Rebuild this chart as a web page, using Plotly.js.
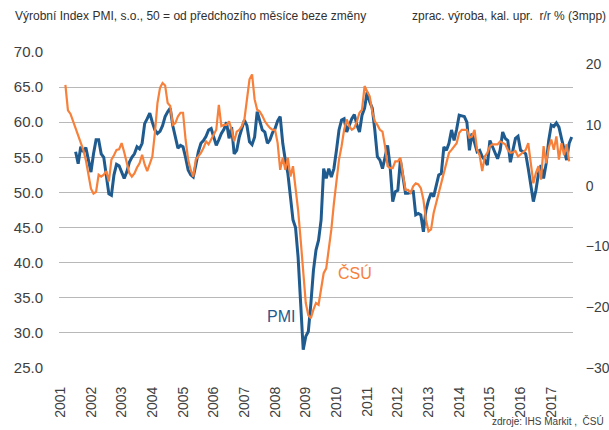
<!DOCTYPE html>
<html>
<head>
<meta charset="utf-8">
<script src="https://cdn.plot.ly/plotly-3.0.1.min.js"></script>
<style>html,body{margin:0;padding:0;background:#fff;}#chart{width:609px;height:430px;}</style>
</head>
<body>
<div id="chart"></div>
<script>
// Monthly data, January 2001 .. September 2017
var years = ["2001","2002","2003","2004","2005","2006","2007","2008","2009","2010","2011","2012","2013","2014","2015","2016","2017"];

// Manufacturing PMI (left axis)
var pmi = [
  null,null,null,null,null,null,55.8,54.1,56.5,55.8,56.4,54.6,   // 2001
  52.9,55.5,57.5,57.5,55.5,55.0,52.0,49.8,49.6,52.5,54.0,53.8,   // 2002
  52.9,52.0,52.9,54.3,55.0,55.5,56.5,56.2,57.0,59.8,60.5,61.3,   // 2003
  60.0,58.9,58.4,58.7,59.5,60.8,61.5,62.0,59.5,57.7,56.3,56.7,   // 2004
  56.5,55.0,53.2,52.5,52.2,53.9,55.8,57.0,57.4,58.0,58.9,59.1,   // 2005
  57.7,56.7,57.5,58.4,59.0,60.0,57.7,59.3,55.5,56.0,57.9,59.1,   // 2006
  60.3,59.5,57.2,56.8,57.9,61.5,60.3,58.9,58.6,57.0,57.5,58.5,   // 2007
  59.1,60.2,60.8,57.0,54.6,52.7,49.4,46.1,45.0,40.8,34.2,27.6,   // 2008
  29.5,30.2,34.2,38.9,41.8,43.2,46.1,53.4,52.0,53.4,52.2,53.4,   // 2009
  56.0,58.9,60.3,60.5,58.6,59.5,60.5,61.1,59.6,58.6,61.0,62.0,   // 2010
  64.3,62.9,62.0,58.9,55.1,54.6,53.4,55.0,56.7,53.6,48.7,50.1,   // 2011
  50.3,54.6,52.5,49.9,49.9,50.0,50.3,46.8,47.0,46.8,44.4,47.5,   // 2012
  48.9,49.9,49.4,50.8,52.5,52.7,56.5,56.0,57.0,58.9,57.4,59.0,   // 2013
  61.0,60.9,60.8,60.0,56.0,58.4,57.0,55.8,56.0,55.1,54.6,53.9,   // 2014
  57.4,56.5,55.5,54.8,56.0,58.6,57.7,57.4,54.3,56.0,57.7,58.0,   // 2015
  56.0,55.8,55.5,53.4,51.3,48.7,50.3,52.7,53.9,52.0,54.1,57.4,   // 2016
  59.6,59.4,59.9,59.3,57.7,56.0,54.6,57.0,57.9                   // 2017
];

// CSU manufacturing output, seasonally adj., y/y %, 3-month moving average (right axis)
var csu = [
  null,null,16.6,12.4,11.8,10.6,9.5,8.0,7.0,5.9,4.2,2.0,          // 2001
  -0.5,-1.3,-1.0,1.8,1.5,1.8,2.4,0.7,4.3,5.0,5.9,6.0,             // 2002
  7.0,5.5,3.7,2.1,1.5,2.0,3.0,3.7,5.1,3.5,2.4,3.5,                // 2003
  4.8,8.7,13.6,16.1,16.9,16.5,13.6,13.1,10.0,10.3,11.4,12.0,      // 2004
  12.0,7.6,4.3,2.6,1.5,4.3,4.8,5.4,6.2,7.3,6.8,7.6,               // 2005
  8.4,9.2,13.3,9.8,10.0,10.0,10.6,9.2,7.3,8.9,9.2,9.8,            // 2006
  10.9,14.7,17.5,18.3,14.2,12.5,12.2,11.5,10.6,10.0,9.5,9.2,      // 2007
  9.2,7.0,2.6,4.6,2.6,4.6,1.5,3.2,-0.1,-4.0,-8.9,-13.8,           // 2008
  -19.3,-21.3,-21.8,-20.4,-19.3,-19.6,-17.1,-14.4,-13.6,-10.5,-7.2,-2.9, // 2009
  1.0,4.3,6.5,9.2,10.9,9.8,9.2,9.5,10.6,12.0,12.5,16.4,           // 2010
  15.5,14.7,12.2,10.6,10.0,9.2,8.9,6.5,3.2,2.9,2.9,4.0,           // 2011
  4.0,4.6,1.8,-0.7,-0.7,-1.2,-0.1,0.4,0.2,-0.4,-2.3,-5.6,         // 2012
  -7.5,-7.2,-4.5,-2.9,-1.2,0.4,2.0,3.7,5.4,5.9,6.5,7.0,           // 2013
  8.7,9.2,9.2,9.2,7.9,8.1,9.2,5.9,5.0,2.4,4.8,5.4,                // 2014
  6.5,6.8,6.8,6.8,7.3,7.0,6.8,5.9,5.4,5.5,5.7,4.8,                // 2015
  5.1,5.5,5.9,7.0,3.7,0.4,2.1,3.2,1.0,6.5,3.7,6.2,                // 2016
  7.6,5.9,8.1,4.3,7.0,5.0,6.8,4.0,null                            // 2017
];

var leftTicks = [25,30,35,40,45,50,55,60,65,70];
var rightTicks = [-30,-20,-10,0,10,20];

var months = pmi.map(function(_, i){ return i; });
var tickPos = years.map(function(_, i){ return i * 12; });

var FONT = '"Liberation Sans", Arial, sans-serif';
var TXT = '#404040';

var traces = [
  {x: months, y: pmi, type: 'scatter', mode: 'lines', name: 'PMI',
   line: {color: '#1f5b8e', width: 3}, connectgaps: false, yaxis: 'y', hoverinfo: 'skip'},
  {x: months, y: csu, type: 'scatter', mode: 'lines', name: 'ČSÚ',
   line: {color: '#f7813a', width: 2.2}, connectgaps: false, yaxis: 'y2', hoverinfo: 'skip'}
];

var layout = {
  width: 609, height: 430,
  margin: {l: 59, r: 36, t: 52, b: 62},
  paper_bgcolor: '#fff', plot_bgcolor: '#fff',
  showlegend: false,
  font: {family: FONT, size: 14, color: TXT},
  xaxis: {
    range: [-0.5, months.length - 0.5],
    tickmode: 'array', tickvals: tickPos, ticktext: years,
    tickangle: -90, ticks: 'outside', ticklen: 12, tickcolor: 'rgba(0,0,0,0)',
    showgrid: false, zeroline: false, showline: false,
    tickfont: {family: FONT, size: 14, color: TXT}
  },
  yaxis: {
    range: [25, 70], tickmode: 'array', tickvals: leftTicks, tickformat: '.1f',
    showgrid: true, gridcolor: '#b8b8b8', gridwidth: 1, zeroline: false, showline: false,
    ticks: 'outside', ticklen: 12, tickcolor: 'rgba(0,0,0,0)',
    tickfont: {family: FONT, size: 15, color: TXT}
  },
  yaxis2: {
    range: [-30, 22], overlaying: 'y', side: 'right',
    tickmode: 'array', tickvals: rightTicks,
    showgrid: false, zeroline: false, showline: false,
    ticks: 'outside', ticklen: 9, tickcolor: 'rgba(0,0,0,0)',
    tickfont: {family: FONT, size: 14, color: TXT}
  },
  annotations: [
    {xref: 'paper', yref: 'paper', x: -0.0895, y: 1.114, xanchor: 'left', yanchor: 'middle',
     text: 'Výrobní Index PMI, s.o., 50 = od předchozího měsíce beze změny', showarrow: false,
     font: {family: FONT, size: 12, color: '#303030'}},
    {xref: 'paper', yref: 'paper', x: 1.068, y: 1.114, xanchor: 'right', yanchor: 'middle',
     text: 'zprac. výroba, kal. upr.  r/r % (3mpp)', showarrow: false,
     font: {family: FONT, size: 12, color: '#303030'}},
    {xref: 'paper', yref: 'paper', x: 1.064, y: -0.168, xanchor: 'right', yanchor: 'middle',
     text: 'zdroje: IHS Markit ,  ČSÚ', showarrow: false,
     font: {family: FONT, size: 10, color: '#404040'}},
    {xref: 'x', yref: 'y', x: 86.3, y: 32.3, text: 'PMI', showarrow: false,
     font: {family: FONT, size: 16, color: '#1f5b8e'}},
    {xref: 'x', yref: 'y', x: 115.2, y: 38.5, text: 'ČSÚ', showarrow: false,
     font: {family: FONT, size: 16, color: '#f7813a'}}
  ]
};

Plotly.newPlot('chart', traces, layout, {staticPlot: true, displayModeBar: false});
</script>
</body>
</html>
